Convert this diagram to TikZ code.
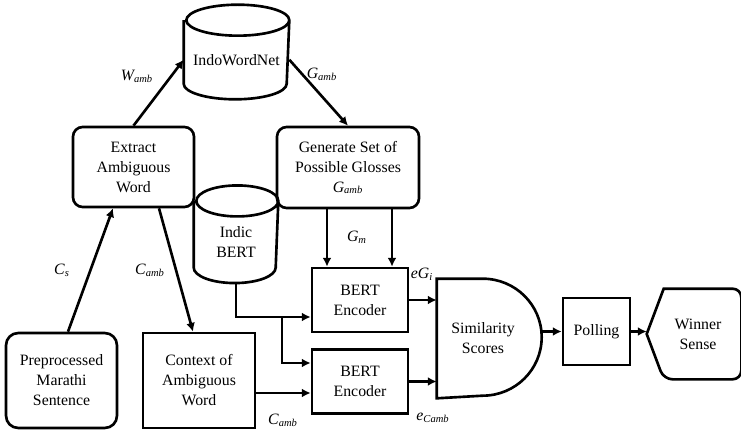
\documentclass[tikz,border=0pt]{standalone}
\usepackage{fontspec}
\setmainfont{Liberation Serif}
\usetikzlibrary{arrows.meta}
\tikzset{>={Latex[length=5pt, width=5pt]}}
\tikzset{box/.style = {draw, rectangle, align=center}}
\tikzset{rbox/.style = {box, rounded corners=5.5pt}}
\tikzset{db/.style = {rectangle, align=center}}
\tikzset{lbl/.style = {font=\fontsize{9pt}{11pt}\selectfont\itshape, inner sep=0}}
\newcommand{\varsub}[2]{#1\textsubscript{#2}}
% outline of a cylinder round node #1, half width #2
\newcommand{\drawcyl}[2]{\draw (#1.north west) -- ([yshift=0.31cm]#1.south west)
    arc [start angle=180, end angle=360, x radius=#2, y radius=0.31]
    -- (#1.north east) arc [start angle=0, end angle=360, x radius=#2, y radius=0.31];}

\begin{document}
\begin{tikzpicture}[line width=1.5pt, font=\fontsize{9pt}{11.4pt}\selectfont]
    \useasboundingbox (0, 0) rectangle (14.82, -8.64);

    \node (iwn) [db, minimum width=2.06cm, minimum height=1.53cm] at (4.73, -1.195) {IndoWordNet};
    \drawcyl{iwn}{1.03}
    \node (ext) [rbox, minimum width=2.42cm, minimum height=1.6cm] at (2.67, -3.34) {Extract\\Ambiguous\\Word};
    \node (gen) [rbox, minimum width=2.84cm, minimum height=1.62cm] at (6.96, -3.35) {Generate Set of\\Possible Glosses\\\textit{\varsub{G}{amb}}};
    \node (ibert) [db, minimum width=1.64cm, minimum height=1.59cm] at (4.72, -4.84) {Indic\\BERT};
    \drawcyl{ibert}{0.82}

    \node (pre) [rbox, rounded corners=7pt, minimum width=2.22cm, minimum height=1.9cm] at (1.23, -7.61) {Preprocessed\\Marathi\\Sentence};
    \node (ctx) [box, minimum width=2.24cm, minimum height=1.9cm] at (3.98, -7.61) {Context of\\Ambiguous\\Word};

    \node (enc1) [box, minimum width=1.92cm, minimum height=1.28cm] at (7.2, -6.0) {BERT\\Encoder};
    \node (enc2) [box, minimum width=1.92cm, minimum height=1.28cm] at (7.2, -7.63) {BERT\\Encoder};

    \node (sim) [minimum width=2.1cm, minimum height=2.34cm] at (9.81, -6.77) {};
    \draw (sim.north west) -- ++(0.92, 0) arc [start angle=90, end angle=-90, x radius=1.18, y radius=1.17] -- (sim.south west) -- cycle;
    \node (simtxt) [align=center] at (9.66, -6.77) {Similarity\\Scores};
    \coordinate (simtip) at ([xshift=2.1cm]sim.west);

    \node (poll) [box, minimum width=1.34cm, minimum height=1.34cm] at (11.93, -6.63) {Polling};
    \node (win) [align=center, minimum width=1.84cm, minimum height=1.76cm] at (13.88, -6.68) {\hspace*{0.16cm}Winner\\\hspace*{0.16cm}Sense};
    \draw (win.west) -- ([xshift=0.34cm]win.north west) {[rounded corners=5pt] -- (win.north east)
        -- (win.south east) -- ([xshift=0.34cm]win.south west)} -- cycle;

    % connectors
    \draw [->] (ext.north) -- (iwn.west);
    \draw [->] (iwn.east) -- (gen.north);
    \draw [->] ([xshift=0.13cm]pre.north) -- ([xshift=-0.41cm]ext.south);
    \draw [->] ([xshift=0.51cm]ext.south) -- ([xshift=-0.12cm]ctx.north);

    \draw [->] ([xshift=-0.66cm]enc1.north |- gen.south) -- ([xshift=-0.66cm]enc1.north);
    \draw [->] ([xshift=0.64cm]enc1.north |- gen.south) -- ([xshift=0.64cm]enc1.north);

    \draw [->] (ibert.south) |- ([yshift=-0.34cm]enc1.west);
    \coordinate (split) at (5.64, -6.34);
    \draw [->] (split) |- ([yshift=0.37cm]enc2.west);
    \draw [->] ([yshift=-0.25cm]ctx.east) -- ([yshift=-0.25cm]ctx.east -| enc2.west);

    \draw [->] (enc1.east) -- (enc1.east -| sim.west);
    \draw [->] (enc2.east) -- (enc2.east -| sim.west);
    \draw [->] (poll.west -| simtip) -- (poll.west);
    \draw [->] (poll.east) -- (poll.east -| win.west);

    % labels
    \node (lwamb) [lbl] at (2.74, -1.52) {\varsub{W}{amb}};
    \node (lgamb) [lbl] at (6.44, -1.48) {\varsub{G}{amb}};
    \node (lgm) [lbl] at (7.14, -4.74) {\varsub{G}{m}};
    \node (lcs) [lbl] at (1.24, -5.4) {\varsub{C}{s}};
    \node (lcamb) [lbl] at (3.0, -5.4) {\varsub{C}{amb}};
    \node (lcamb2) [lbl] at (5.66, -8.4) {\varsub{C}{amb}};
    \node (legi) [lbl] at (8.44, -5.48) {e\varsub{G}{i}};
    \node (lecamb) [lbl] at (8.66, -8.36) {\varsub{e}{Camb}};
\end{tikzpicture}
\end{document}
